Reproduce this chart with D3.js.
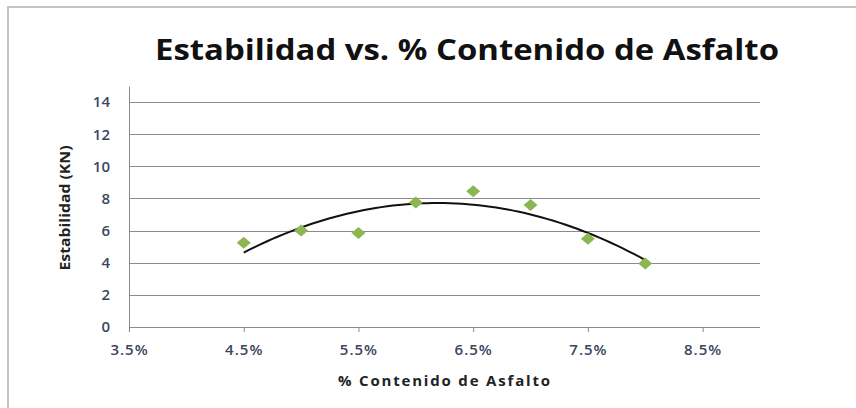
<!DOCTYPE html>
<html lang="es">
<head>
<meta charset="utf-8">
<title>Estabilidad vs. % Contenido de Asfalto</title>
<script src="https://cdn.jsdelivr.net/npm/d3@7"></script>
<style>
  body { margin: 0; background: #fff; }
  svg { display: block; }
  .axis text { font-family: "Open Sans", sans-serif; font-size: 15px; font-weight: 600; fill: #3b4660; }
  .grid line { stroke: #8a8a8a; stroke-width: 1; shape-rendering: crispEdges; }
  .grid path { display: none; }
</style>
</head>
<body>
<script>
// data
var asphalt = [4.5, 5.0, 5.5, 6.0, 6.5, 7.0, 7.5, 8.0];       // % contenido de asfalto
var stability = [5.25, 6.0, 5.85, 7.75, 8.45, 7.6, 5.5, 3.95]; // KN
var xTicks = [3.5, 4.5, 5.5, 6.5, 7.5, 8.5];
var yTicks = [0, 2, 4, 6, 8, 10, 12, 14];

var w = 856, h = 408;
var padL = 129, padR = 760, padT = 86, padB = 327;

var svg = d3.select("body").append("svg").attr("width", w).attr("height", h);

// chart border (only top and left visible)
svg.append("path")
   .attr("d", "M8,420 L8,7 L856,7")
   .attr("fill", "none").attr("stroke", "#c4c4c4").attr("stroke-width", 2);

var x = d3.scaleLinear().domain([3.5, 9.0]).range([padL, padR]);
var y = d3.scaleLinear().domain([0, 15]).range([padB, padT]);

// horizontal gridlines
svg.append("g").attr("class", "grid")
   .attr("transform", "translate(" + padL + ",0)")
   .call(d3.axisLeft(y).tickValues(yTicks).tickSize(-(padR - padL)).tickFormat(""));

// y axis
var yAxis = svg.append("g").attr("class", "axis")
   .attr("transform", "translate(" + padL + ",0)")
   .call(d3.axisLeft(y).tickValues(yTicks).tickSize(0).tickPadding(19));
yAxis.select(".domain").attr("stroke", "#8a8a8a");

// x axis
var xAxis = svg.append("g").attr("class", "axis")
   .attr("transform", "translate(0," + padB + ")")
   .call(d3.axisBottom(x).tickValues(xTicks).tickSize(5).tickPadding(12)
         .tickFormat(function(d) { return d.toFixed(1) + "%"; }));
xAxis.select(".domain").attr("stroke", "#8a8a8a").attr("d", "M" + padL + ",0.5H" + padR);
xAxis.selectAll(".tick line").attr("stroke", "#8a8a8a");
xAxis.selectAll("text").attr("letter-spacing", "1px");

// polynomial (order 2) trendline fitted to the points, as Excel does
function quadFit(xs, ys) {
  var n = xs.length, s = [0, 0, 0, 0, 0], t = [0, 0, 0];
  for (var i = 0; i < n; i++) {
    var p = 1;
    for (var k = 0; k <= 4; k++) { s[k] += p; if (k <= 2) t[k] += p * ys[i]; p *= xs[i]; }
  }
  var m = [[s[0], s[1], s[2], t[0]], [s[1], s[2], s[3], t[1]], [s[2], s[3], s[4], t[2]]];
  for (var c = 0; c < 3; c++) {
    for (var r = c + 1; r < 3; r++) {
      var f = m[r][c] / m[c][c];
      for (var j = c; j < 4; j++) m[r][j] -= f * m[c][j];
    }
  }
  var b = [0, 0, 0];
  for (var r2 = 2; r2 >= 0; r2--) {
    var v = m[r2][3];
    for (var j2 = r2 + 1; j2 < 3; j2++) v -= m[r2][j2] * b[j2];
    b[r2] = v / m[r2][r2];
  }
  return function(xv) { return b[0] + b[1] * xv + b[2] * xv * xv; };
}
var fit = quadFit(asphalt, stability);
var xs = d3.range(0, 71).map(function(i) { return 4.5 + i * 0.05; });
svg.append("path")
   .datum(xs)
   .attr("fill", "none").attr("stroke", "#111").attr("stroke-width", 2)
   .attr("d", d3.line().x(function(d) { return x(d); }).y(function(d) { return y(fit(d)); }));

// diamond markers
svg.selectAll(".pt")
   .data(asphalt)
   .enter().append("path")
   .attr("class", "pt")
   .attr("d", "M0,-6L7,0L0,6L-7,0Z")
   .attr("transform", function(d, i) { return "translate(" + x(d) + "," + y(stability[i]) + ")"; })
   .attr("fill", "#8cb650");

// titles
svg.append("text")
   .attr("x", 467).attr("y", 60)
   .attr("text-anchor", "middle")
   .attr("font-family", "Open Sans, sans-serif").attr("font-weight", "bold")
   .attr("font-size", 28).attr("fill", "#111")
   .attr("textLength", 624).attr("lengthAdjust", "spacingAndGlyphs")
   .text("Estabilidad vs. % Contenido de Asfalto");

svg.append("text")
   .attr("x", 444).attr("y", 386)
   .attr("text-anchor", "middle")
   .attr("font-family", "Open Sans, sans-serif").attr("font-weight", "bold")
   .attr("font-size", 15).attr("fill", "#222")
   .attr("textLength", 212).attr("lengthAdjust", "spacing")
   .text("% Contenido de Asfalto");

svg.append("text")
   .attr("transform", "translate(70,208) rotate(-90)")
   .attr("text-anchor", "middle")
   .attr("font-family", "Open Sans, sans-serif").attr("font-weight", "bold")
   .attr("font-size", 14).attr("fill", "#222")
   .attr("textLength", 125).attr("lengthAdjust", "spacingAndGlyphs")
   .text("Estabilidad (KN)");
</script>
</body>
</html>
